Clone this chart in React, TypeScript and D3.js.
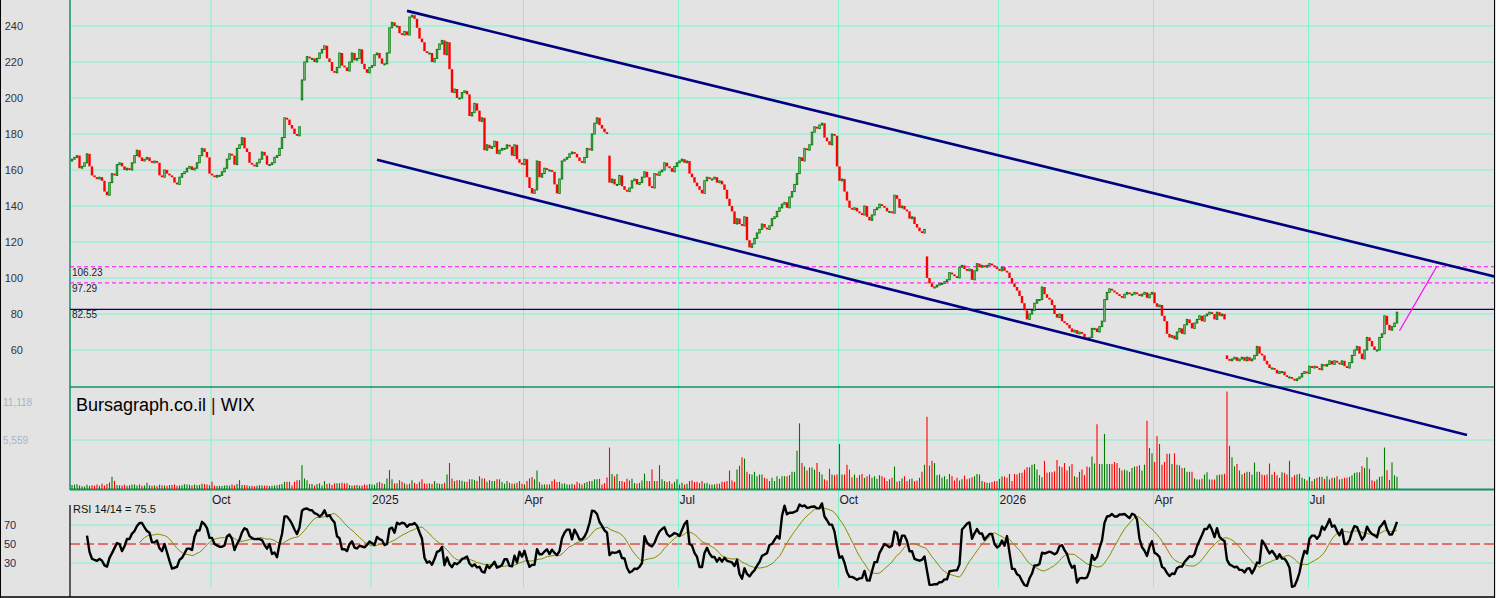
import React from 'react';
import * as d3 from 'd3';

const W = 1496;
const H = 598;

// daily closes (first session: 2024-07-12)
const closes = [
  166, 167, 168, 161, 162, 164, 169, 162, 157, 156,
  155, 156, 154, 148, 146, 153, 158, 157, 163, 164,
  162, 160, 161, 160, 164, 168, 171, 167, 165, 166,
  167, 165, 164, 165, 164, 157, 156, 160, 158, 157,
  156, 153, 152, 156, 158, 159, 161, 162, 160, 161,
  164, 168, 172, 170, 167, 158, 157, 156, 157, 157,
  159, 161, 166, 169, 168, 163, 172, 174, 178, 172,
  170, 164, 163, 162, 164, 166, 170, 168, 163, 163,
  164, 167, 168, 172, 178, 189, 188, 185, 183, 180,
  179, 184, 210, 220, 223, 222, 222, 220, 222, 225,
  227, 229, 222, 220, 215, 214, 217, 225, 218, 217,
  215, 220, 225, 221, 222, 227, 219, 216, 214, 217,
  218, 224, 225, 222, 219, 219, 225, 239, 242, 240,
  240, 236, 235, 237, 235, 245, 246, 244, 239, 233,
  231, 226, 225, 225, 220, 222, 227, 230, 232, 224,
  231, 216, 203, 205, 200, 200, 203, 204, 202, 190,
  192, 197, 193, 187, 189, 171, 174, 172, 173, 176,
  169, 171, 172, 172, 174, 173, 168, 174, 166, 164,
  163, 166, 156, 150, 147, 149, 165, 156, 158, 161,
  160, 160, 159, 152, 147, 155, 165, 166, 167, 169,
  170, 169, 167, 165, 164, 167, 172, 171, 180, 186,
  189, 185, 183, 181, 180, 153, 155, 152, 152, 157,
  151, 149, 148, 150, 154, 155, 152, 153, 156, 159,
  156, 151, 150, 158, 157, 159, 160, 164, 162, 161,
  159, 162, 164, 165, 166, 164, 165, 158, 156, 153,
  151, 149, 147, 154, 156, 155, 155, 156, 153, 154,
  152, 149, 144, 140, 137, 130, 133, 130, 129, 134,
  121, 117, 119, 122, 125, 127, 130, 128, 127, 129,
  133, 134, 137, 139, 141, 142, 139, 145, 148, 152,
  158, 167, 165, 172, 171, 174, 181, 184, 183, 185,
  186, 178, 176, 174, 180, 179, 162, 154, 155, 148,
  143, 139, 138, 139, 137, 136, 135, 140, 134, 132,
  135, 138, 139, 141, 140, 139, 137, 137, 136, 146,
  144, 139, 140, 138, 137, 133, 134, 130, 128, 126,
  125, 127, 100, 97, 95, 95, 96, 97, 97, 98,
  99, 103, 102, 101, 100, 106, 107, 105, 104, 105,
  99, 104, 108, 106, 107, 106, 107, 108, 107, 106,
  105, 104, 106, 104, 103, 100, 97, 95, 93, 90,
  86, 82, 77, 80, 82, 86, 88, 88, 95, 91,
  89, 88, 85, 80, 78, 80, 76, 75, 74, 72,
  70, 71, 69, 70, 69, 67, 66, 67, 72, 72,
  70, 73, 76, 88, 92, 94, 93, 92, 91, 90,
  89, 91, 92, 91, 91, 92, 91, 90, 91, 92,
  89, 91, 92, 86, 84, 85, 79, 76, 69, 67,
  68, 66, 70, 72, 69, 74, 77, 75, 72, 75,
  77, 79, 76, 79, 80, 81, 80, 77, 81, 79,
  80, 77, 55, 54, 55, 56, 54, 55, 56, 54,
  56, 54, 55, 57, 62, 58, 57, 54, 52, 50,
  50, 49, 47, 48, 48, 46, 45, 45, 44, 43,
  44, 45, 47, 48, 47, 51, 50, 51, 50, 49,
  52, 51, 52, 54, 52, 54, 53, 52, 54, 51,
  50, 53, 57, 60, 62, 58, 55, 60, 67, 65,
  62, 60, 60, 67, 69, 79, 74, 71, 73, 75, 81,
];

// sessions that opened away from the previous close: [session, open]
const gapOpens: [number, number][] = [
  [0, 165], [92, 199], [215, 168], [342, 112], [462, 57],
];

// daily volume, thousands of shares
const volumes = [
  450, 500, 550, 400, 300, 280, 480, 350, 420, 380,
  520, 360, 600, 400, 560, 750, 1380, 930, 450, 420,
  400, 500, 380, 420, 520, 520, 400, 520, 380, 400,
  700, 420, 380, 400, 330, 500, 420, 400, 360, 450,
  450, 520, 380, 400, 420, 540, 500, 480, 400, 520,
  420, 450, 600, 560, 500, 420, 820, 380, 350, 380,
  350, 400, 420, 380, 500, 420, 560, 1000, 460, 450,
  420, 350, 380, 300, 380, 420, 400, 380, 400, 350,
  380, 400, 420, 480, 560, 820, 820, 820, 400, 820,
  1000, 1000, 2700, 1200, 1000, 560, 560, 400, 560, 640,
  400, 900, 560, 640, 450, 640, 640, 640, 700, 640,
  640, 450, 380, 420, 450, 380, 400, 520, 450, 560,
  500, 480, 700, 820, 640, 560, 1200, 2150, 1100, 640,
  640, 1000, 820, 640, 500, 600, 1000, 700, 560, 820,
  1100, 640, 600, 640, 560, 900, 640, 600, 560, 700,
  1650, 2950, 1200, 900, 1000, 1000, 930, 820, 820, 1100,
  1100, 1000, 900, 1450, 1200, 1200, 820, 1000, 900, 900,
  1100, 1100, 800, 600, 900, 700, 600, 600, 700, 900,
  600, 520, 900, 1200, 1350, 1100, 2100, 780, 520, 520,
  500, 520, 900, 1100, 780, 820, 600, 640, 520, 500,
  600, 500, 820, 640, 520, 670, 780, 900, 900, 1100,
  1100, 1150, 520, 670, 1300, 4700, 1700, 1450, 1700, 900,
  900, 780, 1150, 970, 1150, 670, 600, 700, 970, 1750,
  900, 900, 2200, 900, 900, 2700, 1100, 900, 780, 900,
  600, 820, 1100, 520, 700, 520, 600, 900, 970, 780,
  820, 670, 900, 630, 700, 520, 520, 520, 600, 600,
  820, 820, 900, 2100, 970, 820, 2200, 2650, 3600, 3450,
  1950, 1700, 1650, 1950, 1450, 1650, 1650, 1270, 1150, 900,
  1270, 900, 1450, 1150, 1450, 1450, 1450, 1570, 1950, 1950,
  4350, 7450, 2950, 2550, 2100, 2450, 2450, 2200, 2950, 1950,
  1650, 1100, 970, 2300, 1650, 1570, 1650, 5100, 1650, 1650,
  2750, 2200, 1340, 1650, 1270, 1570, 1700, 1270, 1450, 1650,
  1270, 1450, 1150, 1570, 1450, 1270, 900, 1100, 1270, 2550,
  820, 900, 1200, 1450, 900, 1100, 1200, 900, 970, 1270,
  1950, 2750, 8200, 2650, 3200, 2950, 1570, 1650, 1270, 1450,
  1100, 1700, 1450, 970, 1270, 970, 1100, 1520, 1100, 1200,
  1340, 1450, 1700, 1650, 900, 780, 700, 700, 780, 900,
  900, 1150, 1420, 1420, 1270, 1700, 900, 1700, 1650, 1830,
  1830, 2200, 2460, 2460, 2760, 2830, 2200, 1570, 1340, 3200,
  1830, 1900, 1900, 2000, 3300, 2570, 2460, 2950, 2100, 2570,
  2830, 1450, 1340, 1950, 2200, 1570, 2540, 2460, 3700, 2900,
  7350, 2830, 2830, 6250, 2830, 2830, 2830, 3060, 2950, 2390,
  2100, 2200, 2100, 1950, 2390, 2540, 2570, 2690, 2100, 2760,
  7750, 4650, 4050, 3060, 6000, 5100, 2760, 3060, 4000, 4000,
  2830, 4050, 2760, 2690, 2390, 2390, 1950, 1950, 1950, 1200,
  1080, 1080, 1150, 1640, 1900, 1080, 1080, 1080, 1570, 1640,
  1640, 1720, 11050, 4900, 3600, 2570, 2830, 2100, 1640, 1830,
  1950, 1950, 1640, 3000, 1950, 1950, 1640, 1570, 1640, 2900,
  1640, 1950, 1570, 1270, 1900, 1830, 1640, 3200, 1340, 1570,
  1640, 1720, 1270, 1150, 970, 1380, 900, 1150, 1270, 1380,
  1380, 1150, 1450, 1080, 1270, 1270, 1450, 1080, 1150, 1270,
  1270, 1380, 1570, 1830, 1900, 1900, 2570, 2390, 3600, 2280,
  1000, 900, 1080, 1380, 1450, 4700, 2130, 1040, 3000, 1570, 1380,
];

const firstSession = [2024, 6, 12];
const holidays = [
  '2024-09-02', '2024-11-28', '2024-12-25',
  '2025-01-01', '2025-01-20', '2025-02-17', '2025-04-18', '2025-05-26',
  '2025-06-19', '2025-07-04', '2025-09-01', '2025-11-27', '2025-12-25',
  '2026-01-01', '2026-01-19', '2026-04-03', '2026-05-25', '2026-06-19',
];

const priceTicks = [60, 80, 100, 120, 140, 160, 180, 200, 220, 240];
const priceLevels = [106.23, 97.29, 82.55];
const volumeTicks = [11118, 5559];
const rsiTicks = [70, 50, 30];

// trend lines as [session, price]
const upperChannel: [number, number][] = [[134, 248.4], [570, 100.5]];
const lowerChannel: [number, number][] = [[122, 165.7], [558, 12.8]];
const targetLine: [number, number][] = [[531, 70.7], [546, 106.7]];

const rsiLabel = 'RSI 14/14 = 75.5';
const title = 'Bursagraph.co.il';
const ticker = 'WIX';

const BG = '#e3e3e3';
const GRID = '#7df5cb';
const FRAME = '#13926a';
const UP = '#007a00';
const DOWN = '#ff0000';
const NAVY = '#000080';
const FONT = '"Liberation Sans", Arial, sans-serif';

const L = 70; // panel left edge
const R = 1494;

function tradingDays(count: number): Date[] {
  const off = new Set(holidays);
  const fmt = d3.utcFormat('%Y-%m-%d');
  const out: Date[] = [];
  let d = new Date(Date.UTC(firstSession[0], firstSession[1], firstSession[2]));
  while (out.length < count) {
    const wd = d.getUTCDay();
    if (wd !== 0 && wd !== 6 && !off.has(fmt(d))) out.push(d);
    d = d3.utcDay.offset(d, 1);
  }
  return out;
}

// simple-average RSI over the last `period` changes
function rsi(values: number[], period: number): (number | null)[] {
  const out: (number | null)[] = [null];
  for (let i = 1; i < values.length; i++) {
    let g = 0;
    let l = 0;
    for (let k = Math.max(1, i - period + 1); k <= i; k++) {
      const ch = values[k] - values[k - 1];
      if (ch > 0) g += ch; else l -= ch;
    }
    out.push(g + l === 0 ? 50 : (100 * g) / (g + l));
  }
  return out;
}

export default function App() {
  const n = closes.length;
  const dates = tradingDays(n);
  const gapMap = new Map(gapOpens);
  const opens = closes.map((c, i) => gapMap.get(i) ?? (i > 0 ? closes[i - 1] : c));

  const x = d3.scaleLinear().domain([0, n - 1]).range([72, 1397]);
  const yP = d3.scaleLinear().domain([40, 240]).range([386, 26]);
  const yV = d3.scaleLinear().domain([0, 5559]).range([489, 440]);
  const yR = d3.scaleLinear().domain([0, 100]).range([591.5, 496.5]);

  // first session of each quarter
  const quarterTicks: { i: number; label: string }[] = [];
  for (let i = 1; i < n; i++) {
    const m = dates[i].getUTCMonth();
    if (m !== dates[i - 1].getUTCMonth() && m % 3 === 0) {
      quarterTicks.push({ i, label: m === 0 ? d3.utcFormat('%Y')(dates[i]) : d3.utcFormat('%b')(dates[i]) });
    }
  }

  const rsiVals = rsi(closes, 14);
  const rsiPts: [number, number][] = [];
  rsiVals.forEach((v, i) => { if (v !== null && i >= 6) rsiPts.push([i, v]); });
  const sigPts: [number, number][] = [];
  for (let i = 27; i < n; i++) {
    const win = rsiVals.slice(i - 13, i + 1) as number[];
    sigPts.push([i, d3.mean(win) as number]);
  }

  const rsiLine = d3.line<[number, number]>().x(d => x(d[0])).y(d => yR(d[1]));
  const trend = d3.line<[number, number]>().x(d => x(d[0])).y(d => yP(d[1]));

  const bw = 2.4;

  return (
    <div style={{ position: 'absolute', left: 0, top: 0 }}>
      <svg width={W} height={H} viewBox={`0 0 ${W} ${H}`} style={{ display: 'block', fontFamily: FONT }}>
        <defs>
          <clipPath id="priceClip"><rect x={L} y={0} width={R - L} height={387} /></clipPath>
          <clipPath id="chartClip"><rect x={L} y={0} width={R - L} height={490} /></clipPath>
        </defs>
        <rect x={0} y={0} width={W} height={H} fill={BG} />

        {/* horizontal grid */}
        {priceTicks.map(t => (
          <line key={'pg' + t} x1={L} x2={R} y1={yP(t)} y2={yP(t)} stroke={GRID} strokeWidth={1} />
        ))}
        <line x1={L} x2={R} y1={yV(volumeTicks[1])} y2={yV(volumeTicks[1])} stroke={GRID} />
        {[70, 30].map(t => (
          <line key={'rg' + t} x1={L} x2={R} y1={yR(t)} y2={yR(t)} stroke={GRID} />
        ))}
        <line x1={L} x2={R} y1={yR(50)} y2={yR(50)} stroke="#e00000" strokeDasharray="10,4" />

        {/* vertical grid */}
        {quarterTicks.map(t => (
          <line key={'vg' + t.i} x1={x(t.i) - 1} x2={x(t.i) - 1} y1={0} y2={587} stroke={GRID} />
        ))}

        {/* panel frame */}
        <line x1={L} x2={L} y1={0} y2={490} stroke={FRAME} strokeWidth={1.5} />
        <line x1={L} x2={R} y1={387} y2={387} stroke={FRAME} strokeWidth={1.5} />
        <line x1={L} x2={R} y1={489.5} y2={489.5} stroke={FRAME} strokeWidth={2} />
        <line x1={L} x2={L} y1={505} y2={597} stroke="#000" strokeWidth={1.2} />

        {/* price levels */}
        {priceLevels.map((v, k) => (
          <g key={'lv' + v}>
            <line x1={L} x2={R} y1={yP(v)} y2={yP(v)}
              stroke={k < 2 ? '#ff00ff' : NAVY} strokeWidth={k < 2 ? 1 : 1.3}
              strokeDasharray={k < 2 ? '4,3' : undefined} />
            <text x={72} y={yP(v) + 9} fontSize={10} fill="#1b1b3a">{v.toFixed(2)}</text>
          </g>
        ))}

        {/* volume */}
        <g>
          {volumes.map((v, i) => (
            <line key={'v' + i} x1={x(i)} x2={x(i)} y1={yV(0)} y2={yV(v)}
              stroke={closes[i] >= opens[i] ? UP : DOWN} strokeWidth={1.1} />
          ))}
        </g>

        {/* candles */}
        <g clipPath="url(#priceClip)">
          {closes.map((c, i) => {
            const o = opens[i];
            const up = c >= o;
            const top = yP(Math.max(o, c));
            const h = Math.max(1, yP(Math.min(o, c)) - top);
            return up ? (
              <rect key={'c' + i} x={x(i) - bw / 2 + 0.5} y={top} width={bw - 1} height={h}
                fill={BG} stroke={UP} strokeWidth={1} />
            ) : (
              <rect key={'c' + i} x={x(i) - bw / 2} y={top} width={bw} height={h} fill={DOWN} />
            );
          })}
        </g>

        {/* trend lines */}
        <g clipPath="url(#chartClip)" fill="none">
          <path d={trend(upperChannel) ?? ''} stroke={NAVY} strokeWidth={2.6} />
          <path d={trend(lowerChannel) ?? ''} stroke={NAVY} strokeWidth={2.6} />
          <path d={trend(targetLine) ?? ''} stroke="#ff00ff" strokeWidth={1.2} />
        </g>

        {/* RSI */}
        <path d={rsiLine(sigPts) ?? ''} fill="none" stroke="#8a8a00" strokeWidth={1} />
        <path d={rsiLine(rsiPts) ?? ''} fill="none" stroke="#000" strokeWidth={2.4} strokeLinejoin="round" />
        <text x={73} y={513} fontSize={11} fill="#111">{rsiLabel}</text>

        {/* axis labels */}
        {priceTicks.map(t => (
          <text key={'pt' + t} x={23} y={yP(t) + 4} fontSize={11} textAnchor="end" fill="#333">{t}</text>
        ))}
        <text x={3} y={406} fontSize={10} fill="#a3b5c6">{d3.format(',')(volumeTicks[0])}</text>
        <text x={3} y={444} fontSize={10} fill="#a3b5c6">{d3.format(',')(volumeTicks[1])}</text>
        {rsiTicks.map(t => (
          <text key={'rt' + t} x={4} y={yR(t) + 4} fontSize={11} fill="#1c2a5a">{t}</text>
        ))}
        {quarterTicks.map(t => (
          <text key={'xt' + t.i} x={x(t.i)} y={504} fontSize={12} fill="#1a1a2e">{t.label}</text>
        ))}

        <text x={76} y={411} fontSize={18} fill="#000">
          {title} <tspan fill="#6b0000">|</tspan> {ticker}
        </text>

        {/* outer frame */}
        <line x1={0.5} x2={0.5} y1={0} y2={H} stroke="#000" />
        <line x1={R + 0.5} x2={R + 0.5} y1={0} y2={H} stroke="#000" />
        <line x1={0} x2={R} y1={597} y2={597} stroke="#000" strokeWidth={1.5} />
      </svg>
    </div>
  );
}
